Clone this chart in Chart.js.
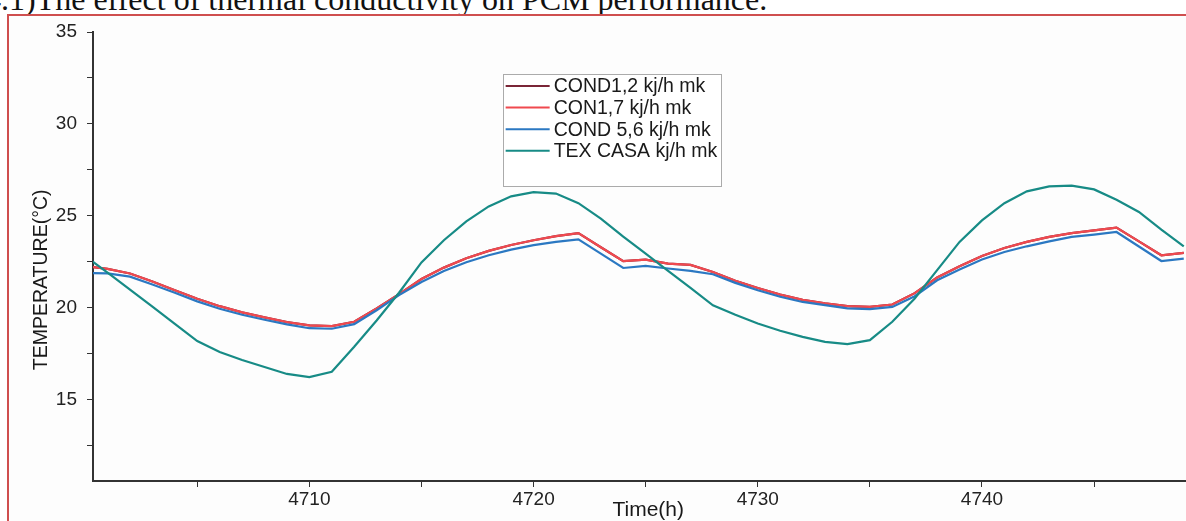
<!DOCTYPE html>
<html>
<head>
<meta charset="utf-8">
<script src="https://cdn.jsdelivr.net/npm/chart.js@4.4.1/dist/chart.umd.min.js"></script>
<style>
  html, body { margin: 0; padding: 0; background: #fff; overflow: hidden; }
  body { width: 1186px; height: 521px; position: relative; }
  #caption {
    position: absolute; left: -15px; top: -17px;
    font-family: "Liberation Serif", serif; font-size: 32px; line-height: 32px;
    white-space: nowrap; color: #111;
  }
  #frame {
    position: absolute; left: 7px; top: 14px; width: 1200px; height: 540px;
    border: 2px solid #cf4f4f; background: #fdfdfd;
  }
  #chart { position: absolute; left: 0; top: 0; }
</style>
</head>
<body>
<div id="caption">4.1)The effect of thermal conductivity on PCM performance.</div>
<div id="frame"></div>
<canvas id="chart" width="1186" height="521"></canvas>
<script>
// hours on the x axis
const hours = [
  4700, 4701, 4702, 4703, 4704, 4705, 4706, 4707, 4708, 4709,
  4710, 4711, 4712, 4713, 4714, 4715, 4716, 4717, 4718, 4719,
  4720, 4721, 4722, 4723, 4724, 4725, 4726, 4727, 4728, 4729,
  4730, 4731, 4732, 4733, 4734, 4735, 4736, 4737, 4738, 4739,
  4740, 4741, 4742, 4743, 4744, 4745, 4746, 4747, 4748, 4749
];

// temperatures (°C)
const cond12 = [
  22.25, 22.10, 21.85, 21.41, 20.94, 20.47, 20.07, 19.73, 19.46, 19.20,
  19.02, 18.98, 19.22, 19.95, 20.72, 21.55, 22.17, 22.68, 23.08, 23.40,
  23.66, 23.88, 24.05, 23.28, 22.52, 22.60, 22.39, 22.32, 21.93, 21.45,
  21.06, 20.70, 20.41, 20.22, 20.07, 20.03, 20.16, 20.78, 21.63, 22.24,
  22.80, 23.24, 23.57, 23.84, 24.05, 24.20, 24.35, 23.60, 22.84, 22.97
];
const cond17 = [
  22.25, 22.10, 21.85, 21.41, 20.94, 20.47, 20.07, 19.73, 19.46, 19.20,
  19.02, 18.98, 19.22, 19.95, 20.72, 21.55, 22.17, 22.68, 23.08, 23.40,
  23.66, 23.88, 24.05, 23.28, 22.52, 22.60, 22.39, 22.32, 21.93, 21.45,
  21.06, 20.70, 20.41, 20.22, 20.07, 20.03, 20.16, 20.78, 21.63, 22.24,
  22.80, 23.24, 23.57, 23.84, 24.05, 24.20, 24.35, 23.60, 22.84, 22.97
];
const cond56 = [
  21.88, 21.86, 21.68, 21.25, 20.80, 20.33, 19.93, 19.60, 19.33, 19.08,
  18.87, 18.84, 19.09, 19.85, 20.67, 21.39, 21.99, 22.46, 22.84, 23.15,
  23.39, 23.57, 23.71, 22.93, 22.15, 22.26, 22.12, 21.99, 21.81, 21.34,
  20.94, 20.58, 20.30, 20.13, 19.95, 19.91, 20.03, 20.61, 21.48, 22.07,
  22.61, 23.02, 23.33, 23.60, 23.84, 23.97, 24.11, 23.32, 22.53, 22.66
];
const texCasa = [
  22.80, 21.90, 20.97, 20.05, 19.11, 18.17, 17.57, 17.14, 16.76, 16.38,
  16.21, 16.50, 17.86, 19.29, 20.80, 22.45, 23.66, 24.69, 25.50, 26.05,
  26.28, 26.20, 25.68, 24.84, 23.86, 22.93, 21.99, 21.07, 20.12, 19.60,
  19.13, 18.73, 18.40, 18.13, 18.00, 18.22, 19.22, 20.49, 22.03, 23.57,
  24.74, 25.68, 26.32, 26.59, 26.63, 26.43, 25.87, 25.20, 24.24, 23.33
];

const seriesLabels = ['COND1,2 kj/h mk', 'CON1,7 kj/h mk', 'COND 5,6 kj/h mk', 'TEX CASA kj/h mk'];
const xTicks = [4705, 4710, 4715, 4720, 4725, 4730, 4735, 4740, 4745];
const xLabels = [4710, 4720, 4730, 4740];
const yTicks = [12.5, 15, 17.5, 20, 22.5, 25, 27.5, 30, 32.5, 35];
const yLabels = [15, 20, 25, 30, 35];

const FONT = "'Liberation Sans', Arial, sans-serif";

function pairs(values) {
  return hours.map((h, i) => ({ x: h, y: values[i] }));
}

// axis titles drawn by hand, the y title sits a bit below the middle
const axisTitles = {
  id: 'axisTitles',
  afterDraw(chart) {
    const { ctx, chartArea } = chart;
    ctx.save();
    ctx.fillStyle = '#1a1a1a';
    ctx.textAlign = 'center';
    ctx.textBaseline = 'middle';
    ctx.font = '21px ' + FONT;
    ctx.fillText('Time(h)', chartArea.left + chartArea.width * 0.508, chartArea.bottom + 29);
    ctx.translate(chartArea.left - 51, chartArea.top + chartArea.height * 0.552);
    ctx.rotate(-Math.PI / 2);
    ctx.font = '19.5px ' + FONT;
    ctx.fillText('TEMPERATURE(°C)', 0, 0);
    ctx.restore();
  }
};

// boxed legend inside the plot
const boxLegend = {
  id: 'boxLegend',
  afterDraw(chart) {
    const { ctx, chartArea } = chart;
    const x0 = chartArea.left + chartArea.width * 0.3748;
    const x1 = chartArea.left + chartArea.width * 0.5743;
    const y0 = chartArea.top + chartArea.height * 0.0935;
    const y1 = chartArea.top + chartArea.height * 0.343;
    ctx.save();
    ctx.fillStyle = '#ffffff';
    ctx.fillRect(x0, y0, x1 - x0, y1 - y0);
    ctx.strokeStyle = '#ababab';
    ctx.lineWidth = 1;
    ctx.strokeRect(Math.round(x0) + 0.5, Math.round(y0) + 0.5, Math.round(x1 - x0), Math.round(y1 - y0));
    ctx.font = '19.5px ' + FONT;
    ctx.textBaseline = 'middle';
    chart.data.datasets.forEach((ds, i) => {
      const y = y0 + 12 + i * 21.6;
      ctx.strokeStyle = ds.borderColor;
      ctx.lineWidth = 2;
      ctx.beginPath();
      ctx.moveTo(x0 + 3, y);
      ctx.lineTo(x0 + 47, y);
      ctx.stroke();
      ctx.fillStyle = '#1a1a1a';
      ctx.fillText(ds.label, x0 + 51, y + 1);
    });
    ctx.restore();
  }
};

new Chart(document.getElementById('chart'), {
  type: 'line',
  data: {
    datasets: [
      { label: seriesLabels[0], data: pairs(cond12), borderColor: '#7a2536', order: 4 },
      { label: seriesLabels[1], data: pairs(cond17), borderColor: '#f0494f', order: 3 },
      { label: seriesLabels[2], data: pairs(cond56), borderColor: '#2b78c2', order: 2 },
      { label: seriesLabels[3], data: pairs(texCasa), borderColor: '#178b86', order: 1 }
    ]
  },
  options: {
    responsive: false,
    animation: false,
    devicePixelRatio: 1,
    layout: { padding: { top: 32, left: 0, right: 0, bottom: 0 } },
    elements: {
      point: { radius: 0 },
      line: { tension: 0, borderWidth: 2.2 }
    },
    plugins: {
      legend: { display: false },
      tooltip: { enabled: false }
    },
    scales: {
      x: {
        type: 'linear',
        min: 4700.35,
        max: 4749.1,
        afterBuildTicks: s => { s.ticks = xTicks.map(v => ({ value: v })); },
        afterFit: s => { s.height = 40; },
        grid: { drawOnChartArea: false, tickLength: 6, color: '#333' },
        border: { color: '#333', width: 2 },
        ticks: {
          autoSkip: false, maxRotation: 0, padding: 1,
          color: '#222', font: { family: FONT, size: 19 },
          callback: v => xLabels.includes(v) ? String(v) : ''
        }
      },
      y: {
        min: 10.55,
        max: 35,
        afterBuildTicks: s => { s.ticks = yTicks.map(v => ({ value: v })); },
        afterFit: s => { s.width = 93; },
        grid: { drawOnChartArea: false, tickLength: 6, color: '#333' },
        border: { color: '#333', width: 2 },
        ticks: {
          padding: 10,
          color: '#222', font: { family: FONT, size: 19 },
          callback: v => yLabels.includes(v) ? String(v) : ''
        }
      }
    }
  },
  plugins: [axisTitles, boxLegend]
});
</script>
</body>
</html>
